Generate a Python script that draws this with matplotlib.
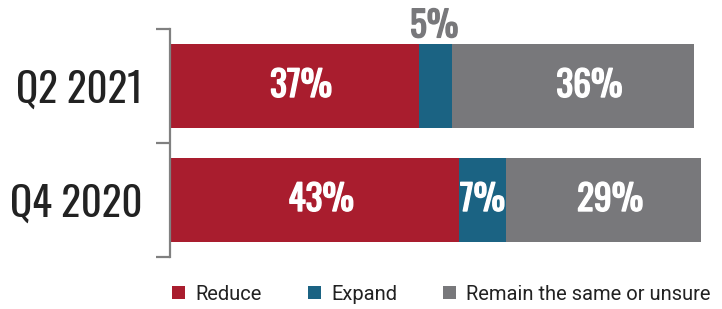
import matplotlib
matplotlib.use("Agg")
import matplotlib.pyplot as plt
import matplotlib.patheffects as pe
from matplotlib.patches import Patch

# 数据
periods = ["Q4 2020", "Q2 2021"]
series = ["Reduce", "Expand", "Remain the same or unsure"]
reduce_vals = [43, 37]
expand_vals = [7, 5]
remain_vals = [29, 36]
colors = ["#A91D2E", "#1B6383", "#78787B"]

label_font = ["Oswald", "DejaVu Sans"]
legend_font = ["Roboto", "DejaVu Sans"]

px = 6.72  # 每 1% 对应的像素
fig = plt.figure(figsize=(7.22, 3.09), dpi=100)
ax = fig.add_axes([170 / 722, 1 - 257 / 309, 552 / 722, 228 / 309])

y = list(range(len(periods)))
left = [0] * len(periods)
for k, (vals, col) in enumerate(zip([reduce_vals, expand_vals, remain_vals], colors)):
    ax.barh(y, vals, left=left, height=0.73, color=col, edgecolor="none")
    for i, v in enumerate(vals):
        cx = left[i] + v / 2
        if v >= 7:
            dx = 0.0 if k == 1 else 1.0
            if k == 2 and i == 1:
                dx = 2.4
            ax.text(cx + dx, y[i], f"{v}%", ha="center", va="center", color="white",
                    fontsize=25.5, family=label_font,
                    path_effects=[pe.withStroke(linewidth=1.0, foreground="white")])
        else:
            ax.text(cx - 0.2, y[i] + 0.365, f"{v}%", ha="center", va="bottom",
                    color="#78787B", fontsize=25.5, family=label_font,
                    path_effects=[pe.withStroke(linewidth=1.0, foreground="#78787B")])
    left = [l + v for l, v in zip(left, vals)]

ax.set_xlim(0, 552 / px)
ax.set_ylim(-0.5, 1.5)
ax.set_yticks(y)
ax.set_yticklabels(periods, family=label_font, fontsize=29.5, color="#222222")
ax.tick_params(axis="y", which="major", length=0, pad=20)
ax.set_yticks([-0.5, 0.5, 1.5], minor=True)
ax.tick_params(axis="y", which="minor", length=10, width=1.6, color="#808080")
ax.set_xticks([])
for s in ["top", "right", "bottom"]:
    ax.spines[s].set_visible(False)
ax.spines["left"].set_color("#808080")
ax.spines["left"].set_linewidth(1.6)

handles = [Patch(facecolor=c, edgecolor="none") for c in colors]
fig.legend(handles, series, loc="center left", bbox_to_anchor=(172 / 722, 1 - 294 / 309),
           ncol=3, frameon=False, borderpad=0, borderaxespad=0,
           handlelength=0.65, handleheight=0.65, handletextpad=0.5,
           columnspacing=2.3, prop={"family": legend_font, "size": 14.5})
for t in fig.legends[0].get_texts():
    t.set_color("#222222")

fig.savefig("out.png", dpi=100, facecolor="white")
